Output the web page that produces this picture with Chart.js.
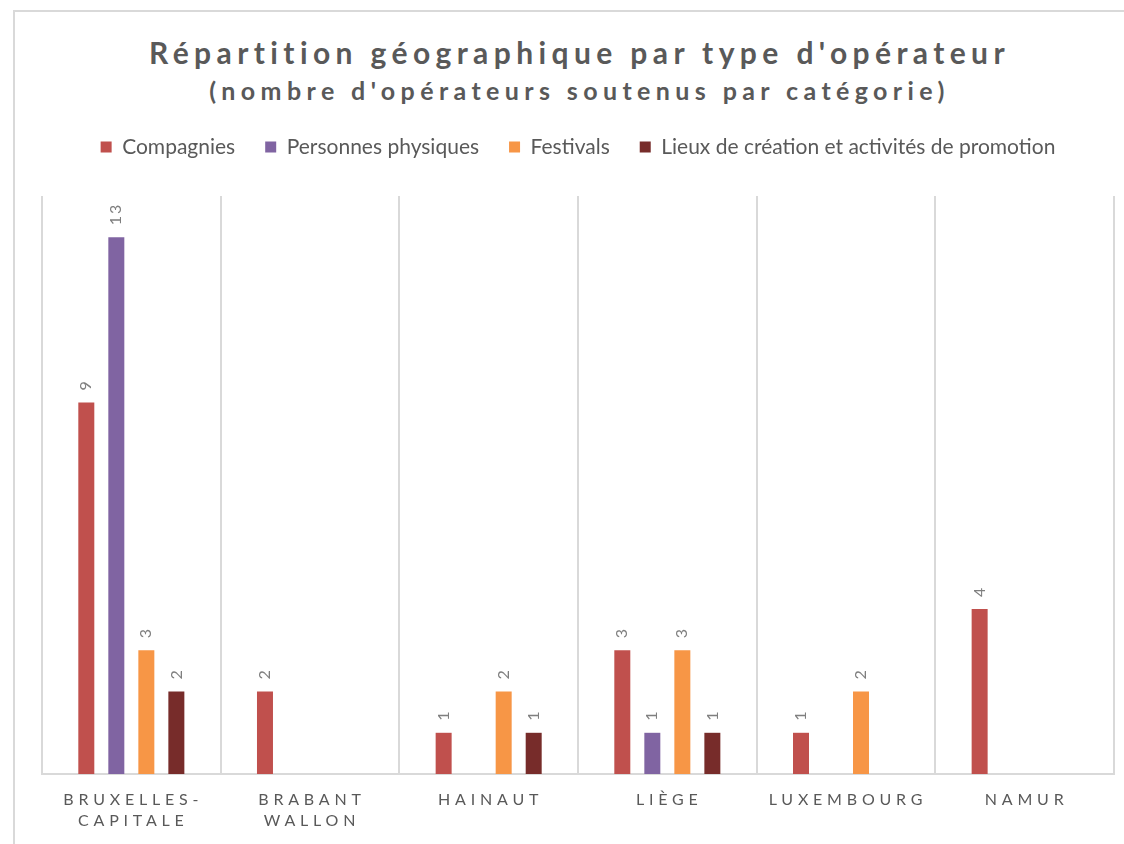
<!DOCTYPE html>
<html>
<head>
  <title>Répartition géographique par type d'opérateur</title>
  <script src="https://cdn.jsdelivr.net/npm/chart.js"></script>
  <style>
    body {
      margin: 0;
      background: #fff;
      overflow: hidden;
      font-family: Lato, sans-serif;
    }
    .frame {
      position: absolute;
      left: 13px;
      top: 10px;
      width: 1200px;
      height: 900px;
      border-left: 2px solid #d9d9d9;
      border-top: 2px solid #d9d9d9;
      box-sizing: border-box;
    }
    .title {
      position: absolute;
      left: 0;
      top: 33px;
      width: 1154px;
      text-align: center;
      color: #595959;
      font-weight: bold;
    }
    .title .main {
      font-size: 30px;
      letter-spacing: 5.4px;
      line-height: 38px;
      padding-left: 5px;
    }
    .title .sub {
      font-size: 25px;
      letter-spacing: 5.4px;
      line-height: 38px;
      padding-left: 5px;
    }
    .chart-container {
      position: absolute;
      left: 0;
      top: 0;
      width: 1154px;
      height: 856px;
    }
  </style>
</head>
<body>
  <div class="frame"></div>
  <div class="title">
    <div class="main">Répartition géographique par type d'opérateur</div>
    <div class="sub">(nombre d'opérateurs soutenus par catégorie)</div>
  </div>
  <div class="chart-container">
    <canvas id="myChart"></canvas>
  </div>
  <script>
    const provinces = [['BRUXELLES-', 'CAPITALE'], ['BRABANT', 'WALLON'], 'HAINAUT', 'LIÈGE', 'LUXEMBOURG', 'NAMUR'];
    const seriesNames = ['Compagnies', 'Personnes physiques', 'Festivals', 'Lieux de création et activités de promotion'];
    const compagnies = [9, 2, 1, 3, 1, 4];
    const personnes = [13, null, null, 1, null, null];
    const festivals = [3, null, 2, 3, 2, null];
    const lieux = [2, null, 1, 1, null, null];
    const colors = ['#c0504d', '#8064a2', '#f79646', '#772c2a'];

    // draws the rotated value above each bar
    const valueLabels = {
      id: 'valueLabels',
      afterDatasetsDraw(chart) {
        const ctx = chart.ctx;
        ctx.save();
        ctx.font = '16px Lato';
        ctx.fillStyle = '#7f7f7f';
        ctx.letterSpacing = '2px';
        ctx.textAlign = 'left';
        ctx.textBaseline = 'middle';
        chart.data.datasets.forEach((ds, i) => {
          chart.getDatasetMeta(i).data.forEach((bar, j) => {
            const v = ds.data[j];
            if (v == null) return;
            ctx.save();
            ctx.translate(bar.x, bar.y - 12);
            ctx.rotate(-Math.PI / 2);
            ctx.fillText(String(v), 0, 0);
            ctx.restore();
          });
        });
        ctx.restore();
        // x tick labels are drawn after this (ticks.z = 1), spaced out
        ctx.letterSpacing = '4.8px';
      },
      afterDraw(chart) {
        chart.ctx.letterSpacing = '0px';
      }
    };

    // extra room between legend and plot
    const legendGap = {
      id: 'legendGap',
      beforeInit(chart) {
        if (!chart.legend) return;
        const fit = chart.legend.fit;
        chart.legend.fit = function () {
          fit.call(this);
          this.height += 28.5;
        };
      }
    };

    const ctx = document.getElementById('myChart').getContext('2d');
    const chart = new Chart(ctx, {
      type: 'bar',
      data: {
        labels: provinces,
        datasets: [
          { label: seriesNames[0], data: compagnies, backgroundColor: colors[0] },
          { label: seriesNames[1], data: personnes, backgroundColor: colors[1] },
          { label: seriesNames[2], data: festivals, backgroundColor: colors[2] },
          { label: seriesNames[3], data: lieux, backgroundColor: colors[3] }
        ]
      },
      options: {
        responsive: true,
        maintainAspectRatio: false,
        animation: false,
        categoryPercentage: 0.672,
        barPercentage: 0.533,
        layout: {
          padding: { top: 106.5, left: 42, right: 40, bottom: 10 }
        },
        plugins: {
          tooltip: { enabled: false },
          legend: {
            position: 'top',
            labels: {
              boxWidth: 11,
              boxHeight: 11,
              padding: 30,
              color: '#595959',
              font: { family: 'Lato', size: 21 }
            }
          }
        },
        scales: {
          x: {
            grid: {
              color: '#d9d9d9',
              lineWidth: 2,
              drawTicks: false,
              offset: true
            },
            border: { color: '#d9d9d9', width: 2 },
            ticks: {
              z: 1,
              color: '#595959',
              font: { family: 'Lato', size: 16, lineHeight: 1.31 },
              padding: 15,
              labelOffset: 2,
              maxRotation: 0,
              autoSkip: false
            }
          },
          y: {
            display: false,
            min: 0,
            max: 14
          }
        }
      },
      plugins: [valueLabels, legendGap]
    });
  </script>
</body>
</html>
